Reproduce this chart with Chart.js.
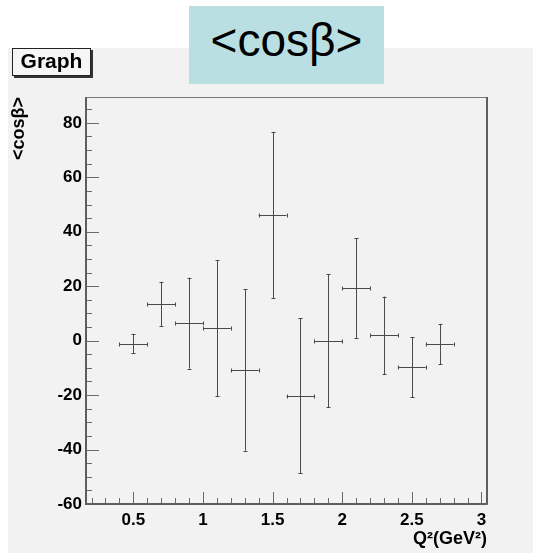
<!DOCTYPE html>
<html>
<head>
<meta charset="utf-8">
<script src="https://cdn.jsdelivr.net/npm/chart.js@4.4.1/dist/chart.umd.min.js"></script>
<style>
    html, body { margin: 0; padding: 0; background: #fff; }
    #wrap { position: relative; width: 533px; height: 556px; overflow: hidden; }
    #panel { position: absolute; left: 8px; top: 48px; width: 525px; height: 505px; background: #f2f2f2; }
    #title {
        position: absolute; left: 189px; top: 6px; width: 195px; height: 71px; padding-top: 7px;
        background: #b9dfe2; text-align: center; line-height: 70px;
        font: 46px "Liberation Sans", Arial, sans-serif; color: #000;
    }
    #tag {
        position: absolute; left: 12px; top: 48px; width: 77px; height: 26px;
        border: 1px solid #222; box-shadow: 2px 2px 0 #333; background: #f6f6f6;
        text-align: center; line-height: 26px;
        font: bold 21px "Liberation Sans", Arial, sans-serif; color: #000;
    }
    canvas { position: absolute; left: 0; top: 0; }
</style>
</head>
<body>
<div id="wrap">
    <div id="panel"></div>
    <canvas id="cosChart" width="533" height="556"></canvas>
    <div id="tag">Graph</div>
    <div id="title">&lt;cosβ&gt;</div>
</div>
<script>
// Dữ liệu: Q^2 (GeV^2) và <cosβ> kèm sai số
const qSquared = [0.5, 0.7, 0.9, 1.1, 1.3, 1.5, 1.7, 1.9, 2.1, 2.3, 2.5, 2.7];
const qSquaredErr = [0.1, 0.1, 0.1, 0.1, 0.1, 0.1, 0.1, 0.1, 0.1, 0.1, 0.1, 0.1];
const cosBeta = [-1.1, 13.5, 6.4, 4.6, -10.7, 46.1, -20.2, 0.0, 19.3, 1.9, -9.8, -1.2];
const cosBetaErr = [3.6, 8.1, 16.7, 25.0, 29.7, 30.6, 28.4, 24.4, 18.4, 14.3, 11.0, 7.4];

// Nhãn trục
const xTickValues = [0.5, 1, 1.5, 2, 2.5, 3];
const yTickValues = [-60, -40, -20, 0, 20, 40, 60, 80];

const FONT = '"Liberation Sans", Arial, Helvetica, sans-serif';

// Vẽ thanh sai số, vạch chia bên trong khung và khung (kiểu ROOT)
const rootFrame = {
    id: 'rootFrame',
    afterDatasetsDraw(chart) {
        const { ctx, chartArea: a, scales: { x, y } } = chart;
        const r = v => Math.round(v) + 0.5;
        ctx.save();

        // thanh sai số
        ctx.strokeStyle = '#4a4a4a';
        ctx.lineWidth = 1;
        ctx.beginPath();
        qSquared.forEach((q, i) => {
            const px = r(x.getPixelForValue(q));
            const py = r(y.getPixelForValue(cosBeta[i]));
            const x0 = x.getPixelForValue(q - qSquaredErr[i]);
            const x1 = x.getPixelForValue(q + qSquaredErr[i]);
            const y0 = y.getPixelForValue(cosBeta[i] - cosBetaErr[i]);
            const y1 = y.getPixelForValue(cosBeta[i] + cosBetaErr[i]);
            ctx.moveTo(x0, py); ctx.lineTo(x1, py);
            ctx.moveTo(px, y0); ctx.lineTo(px, y1);
            // đầu mút nhỏ
            ctx.moveTo(r(x0), py - 2); ctx.lineTo(r(x0), py + 2);
            ctx.moveTo(r(x1), py - 2); ctx.lineTo(r(x1), py + 2);
            ctx.moveTo(px - 2, r(y0)); ctx.lineTo(px + 2, r(y0));
            ctx.moveTo(px - 2, r(y1)); ctx.lineTo(px + 2, r(y1));
        });
        ctx.stroke();

        // vạch chia
        ctx.strokeStyle = '#6a6a6a';
        ctx.beginPath();
        for (let k = Math.ceil(y.min / 5); k * 5 <= y.max; k++) {
            const py = r(y.getPixelForValue(k * 5));
            const len = (k % 4 === 0) ? 13 : 6;
            ctx.moveTo(a.left, py); ctx.lineTo(a.left + len, py);
        }
        for (let k = Math.ceil(x.min * 10); k <= Math.floor(x.max * 10); k++) {
            const px = r(x.getPixelForValue(k / 10));
            const len = (k % 5 === 0) ? 12 : 6;
            ctx.moveTo(px, a.bottom); ctx.lineTo(px, a.bottom - len);
        }
        ctx.stroke();

        // khung
        ctx.strokeStyle = '#7a7a7a';
        ctx.lineWidth = 1;
        ctx.strokeRect(r(a.left), r(a.top), Math.round(a.right - a.left), Math.round(a.bottom - a.top));
        ctx.strokeStyle = '#5e5e5e';
        ctx.lineWidth = 2;
        ctx.beginPath();
        ctx.moveTo(a.left, a.top); ctx.lineTo(a.left, a.bottom); ctx.lineTo(a.right, a.bottom);
        ctx.moveTo(a.right, a.top); ctx.lineTo(a.right, a.bottom);
        ctx.stroke();
        ctx.restore();
    }
};

new Chart(document.getElementById('cosChart').getContext('2d'), {
    type: 'scatter',
    data: {
        datasets: [{
            label: '<cosβ>',
            data: qSquared.map((q, i) => ({ x: q, y: cosBeta[i] })),
            pointRadius: 0,
            showLine: false
        }]
    },
    options: {
        responsive: false,
        animation: false,
        layout: { padding: { left: 8, top: 97, right: 46, bottom: 3 } },
        plugins: { legend: { display: false }, tooltip: { enabled: false } },
        scales: {
            x: {
                type: 'linear',
                min: 0.16,
                max: 3.04,
                afterBuildTicks: s => { s.ticks = xTickValues.map(v => ({ value: v })); },
                afterFit: s => { s.height = 49; },
                grid: { display: false, drawTicks: false },
                border: { display: false },
                ticks: {
                    padding: 6, color: '#000', autoSkip: false, maxRotation: 0,
                    font: { family: FONT, size: 17, weight: 'bold' },
                    callback: v => String(v)
                },
                title: {
                    display: true, text: 'Q²(GeV²)', align: 'end', color: '#000',
                    font: { family: FONT, size: 18, weight: 'bold' },
                    padding: { top: 0, bottom: 3 }
                }
            },
            y: {
                type: 'linear',
                min: -60,
                max: 89.5,
                afterBuildTicks: s => { s.ticks = yTickValues.map(v => ({ value: v })); },
                afterFit: s => { s.width = 78; },
                grid: { display: false, drawTicks: false },
                border: { display: false },
                ticks: {
                    padding: 4, color: '#000', autoSkip: false,
                    font: { family: FONT, size: 17, weight: 'bold' },
                    callback: v => String(v)
                },
                title: {
                    display: true, text: '<cosβ>', align: 'end', color: '#000',
                    font: { family: FONT, size: 18, weight: 'bold' },
                    padding: { top: 0, bottom: 0 }
                }
            }
        }
    },
    plugins: [rootFrame]
});
</script>
</body>
</html>
